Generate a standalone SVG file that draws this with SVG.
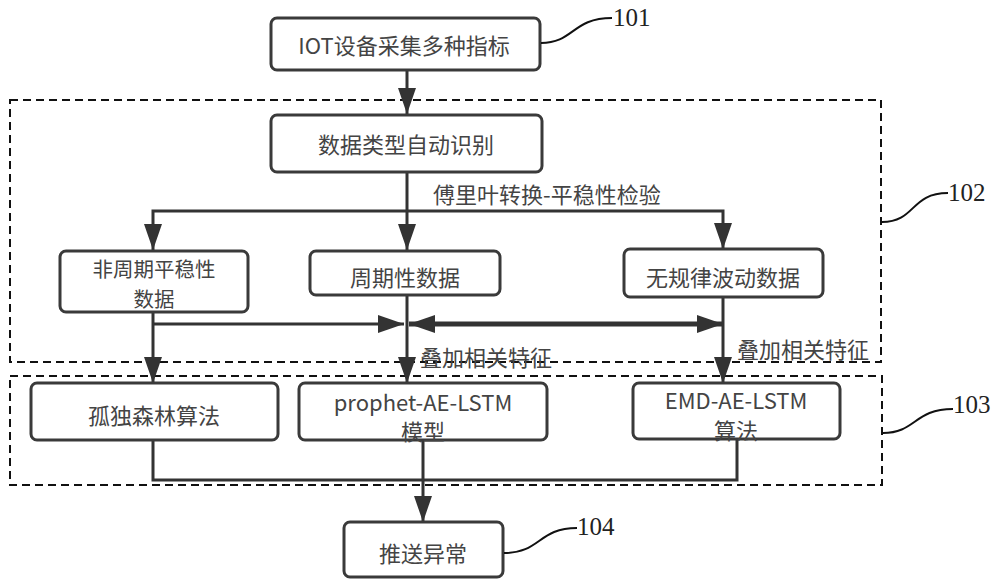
<svg xmlns="http://www.w3.org/2000/svg" width="1000" height="586" viewBox="0 0 1000 586">
<style>
.box{fill:#fff;stroke:#3a3a3a;stroke-width:3}
.t{font-family:"Noto Sans CJK SC","Noto Sans",sans-serif;font-size:22px;fill:#444;text-anchor:middle;dominant-baseline:central}
.lbl{font-family:"Noto Sans CJK SC","Noto Sans",sans-serif;font-size:22px;fill:#444}
.ln{fill:none;stroke:#333;stroke-width:3}
.thick{fill:none;stroke:#333;stroke-width:5}
.dash{fill:none;stroke:#111;stroke-width:2;stroke-dasharray:8,5}
.lead{fill:none;stroke:#111;stroke-width:2}
.num{font-family:"Liberation Serif",serif;font-size:25px;fill:#222}
</style>
<defs>
<marker id="ah" markerUnits="userSpaceOnUse" markerWidth="26" markerHeight="20" viewBox="0 0 26 20" refX="26" refY="10" orient="auto-start-reverse">
<path d="M0,1 L26,10 L0,19 Z" fill="#333"/>
</marker>
</defs>
<g id="groups">
<rect class="dash" x="10" y="100" width="871" height="262"/>
<rect class="dash" x="10" y="376" width="872" height="109"/>
</g>
<g id="connectors">
<line class="ln" x1="407" y1="70" x2="407" y2="114" marker-end="url(#ah)"/>
<line class="ln" x1="407" y1="172" x2="407" y2="250" marker-end="url(#ah)"/>
<polyline class="ln" points="407,211 153,211 153,250" marker-end="url(#ah)"/>
<polyline class="ln" points="407,211 723,211 723,249" marker-end="url(#ah)"/>
<line class="ln" x1="153" y1="312" x2="153" y2="383" marker-end="url(#ah)"/>
<line class="ln" x1="407" y1="295" x2="407" y2="383" marker-end="url(#ah)"/>
<line class="ln" x1="723" y1="297" x2="723" y2="383" marker-end="url(#ah)"/>
<line class="ln" x1="153" y1="324" x2="404" y2="324" marker-end="url(#ah)"/>
<line class="thick" x1="409" y1="324" x2="723" y2="324" marker-start="url(#ah)" marker-end="url(#ah)"/>
<polyline class="ln" points="153,440 153,480 737,480 737,439"/>
<line class="ln" x1="423" y1="440" x2="423" y2="522" marker-end="url(#ah)"/>
<text class="lbl" x="433" y="203">傅里叶转换-平稳性检验</text>
<text class="lbl" x="420" y="366">叠加相关特征</text>
<text class="lbl" x="737" y="358">叠加相关特征</text>
</g>
<g id="n101">
<rect class="box" x="271" y="18" width="269" height="52" rx="6"/>
<text class="t" x="404" y="44">IOT设备采集多种指标</text>
</g>
<g id="n-identify">
<rect class="box" x="271" y="115" width="271" height="57" rx="6"/>
<text class="t" x="406" y="143">数据类型自动识别</text>
</g>
<g id="n-nonperiodic">
<rect class="box" x="60" y="251" width="188" height="61" rx="6"/>
<text class="t" x="154" y="268" style="font-size:20.5px">非周期平稳性<tspan x="154" dy="30">数据</tspan></text>
</g>
<g id="n-periodic">
<rect class="box" x="310" y="251" width="190" height="44" rx="6"/>
<text class="t" x="405" y="276">周期性数据</text>
</g>
<g id="n-irregular">
<rect class="box" x="624" y="249" width="199" height="48" rx="6"/>
<text class="t" x="723" y="276">无规律波动数据</text>
</g>
<g id="n-iforest">
<rect class="box" x="31" y="383" width="247" height="57" rx="6"/>
<text class="t" x="154" y="414">孤独森林算法</text>
</g>
<g id="n-prophet">
<rect class="box" x="299" y="383" width="248" height="57" rx="6"/>
<text class="t" x="423" y="401">prophet-AE-LSTM<tspan x="423" dy="29">模型</tspan></text>
</g>
<g id="n-emd">
<rect class="box" x="633" y="383" width="207" height="56" rx="6"/>
<text class="t" x="736" y="399">EMD-AE-LSTM<tspan x="736" dy="30">算法</tspan></text>
</g>
<g id="n104">
<rect class="box" x="344" y="522" width="159" height="55" rx="6"/>
<text class="t" x="423" y="552">推送异常</text>
</g>
<g id="labels">
<path class="lead" d="M541,43 C574,43 572,18 612,18"/>
<text class="num" x="613" y="26">101</text>
<path class="lead" d="M882,222 C916,222 910,193 948,193"/>
<text class="num" x="948" y="201">102</text>
<path class="lead" d="M883,433 C916,433 914,409 953,409"/>
<text class="num" x="953" y="413">103</text>
<path class="lead" d="M504,553 C541,553 538,528 577,528"/>
<text class="num" x="577" y="535">104</text>
</g>
</svg>
